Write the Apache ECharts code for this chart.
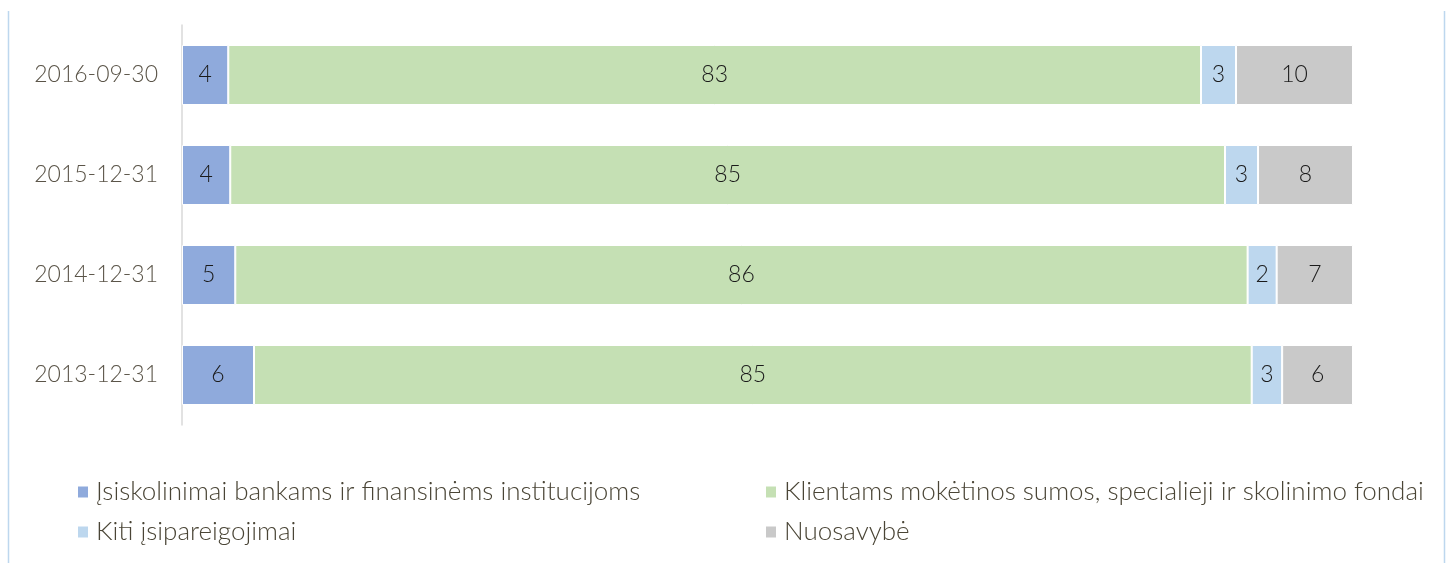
<!DOCTYPE html>
<html>
<head>
<meta charset="utf-8">
<script src="https://cdn.jsdelivr.net/npm/echarts@6/dist/echarts.min.js"></script>
<style>
  html, body { margin: 0; padding: 0; background: #ffffff; }
  #chart { width: 1450px; height: 563px; }
</style>
</head>
<body>
<div id="chart"></div>
<script>
// Categories (top to bottom)
const categories = ['2016-09-30', '2015-12-31', '2014-12-31', '2013-12-31'];

// Series names
const seriesNames = [
  'Įsiskolinimai bankams ir finansinėms institucijoms',
  'Klientams mokėtinos sumos, specialieji ir skolinimo fondai',
  'Kiti įsipareigojimai',
  'Nuosavybė'
];

// Shares (%), per category (top to bottom)
const bankDebt   = [3.95, 4.12, 4.55, 6.15];
const clientDebt = [83.07, 84.95, 86.45, 85.2];
const otherLiab  = [2.99, 2.82, 2.48, 2.6];
const equity     = [9.99, 8.11, 6.52, 6.05];

const seriesColors = ['#8faadc', '#c5e0b4', '#bdd7ee', '#c9c9c9'];
const seriesData = [bankDebt, clientDebt, otherLiab, equity];

const FONT = 'Lato, "Open Sans", sans-serif';

const chart = echarts.init(document.getElementById('chart'), null, { renderer: 'canvas' });

const series = seriesNames.map((name, i) => ({
  name: name,
  type: 'bar',
  stack: 'total',
  barCategoryGap: '40%',
  data: seriesData[i],
  itemStyle: { color: seriesColors[i], borderColor: '#ffffff', borderWidth: 1 },
  label: {
    show: true,
    position: 'inside',
    color: '#1a1a1a',
    fontFamily: FONT,
    fontWeight: 300,
    fontSize: 23,
    formatter: p => String(Math.round(p.value))
  },
  emphasis: { disabled: true }
}));

// legend positions: [left, top]
const legendPos = [[76, 477], [764, 477], [76, 517], [764, 517]];
const legends = seriesNames.map((name, i) => ({
  data: [name],
  left: legendPos[i][0],
  top: legendPos[i][1],
  icon: 'rect',
  itemWidth: 12,
  itemHeight: 13,
  itemGap: 0,
  padding: 0,
  selectedMode: false,
  textStyle: {
    color: '#4a4536',
    fontFamily: FONT,
    fontWeight: 300,
    fontSize: 26,
    lineHeight: 30,
    padding: [0, 0, 0, 2]
  }
}));

chart.setOption({
  animation: false,
  backgroundColor: '#ffffff',
  grid: { left: 182, right: 97, top: 25, bottom: 138, containLabel: false },
  xAxis: {
    type: 'value',
    min: 0,
    max: 100,
    show: false
  },
  yAxis: {
    type: 'category',
    data: categories,
    inverse: true,
    axisLine: { show: true, lineStyle: { color: '#d9d9d9', width: 1.5 } },
    axisTick: { show: false },
    axisLabel: {
      color: '#5a5448',
      fontFamily: FONT,
      fontWeight: 300,
      fontSize: 23,
      margin: 24
    }
  },
  legend: legends,
  graphic: [
    { type: 'line', shape: { x1: 8.5, y1: 11, x2: 8.5, y2: 563 }, style: { stroke: '#bdd7ee', lineWidth: 1.5 } },
    { type: 'line', shape: { x1: 1444.5, y1: 11, x2: 1444.5, y2: 563 }, style: { stroke: '#bdd7ee', lineWidth: 1.5 } }
  ],
  series: series
});
</script>
</body>
</html>
